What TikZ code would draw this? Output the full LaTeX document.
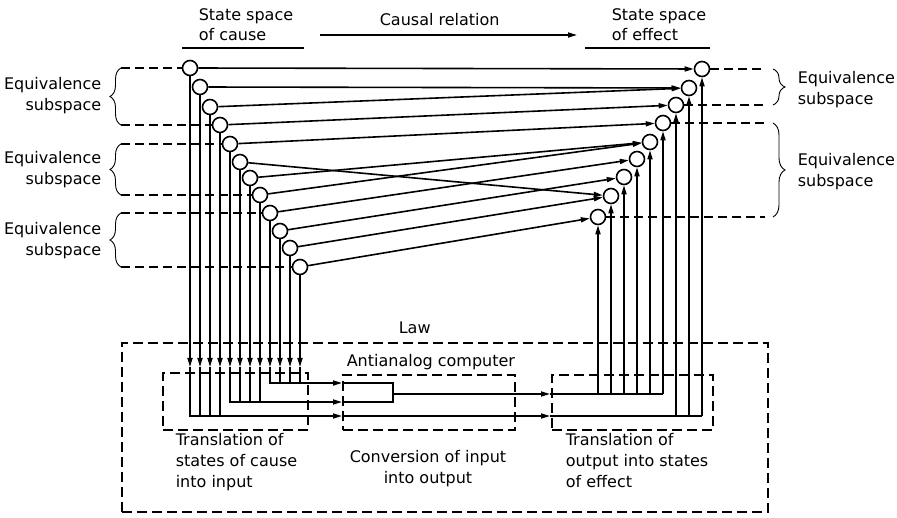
\documentclass[tikz,border=0pt]{standalone}
\usepackage{fontspec}
\setmainfont{DejaVu Sans}
\usetikzlibrary{arrows.meta,decorations.pathreplacing}
\begin{document}
\begin{tikzpicture}[x=1pt,y=-1pt,line width=1.6pt,
  st/.style={circle,draw,line width=1.6pt,minimum size=15pt,inner sep=0pt,fill=white},
  arr/.style={-{Triangle[length=9pt,width=5pt]}},
  dsh/.style={line width=1.1pt,dash pattern=on 9pt off 5pt},
  dbox/.style={draw,line width=1.1pt,dash pattern=on 10pt off 5pt,inner sep=0pt},
  brc/.style={line width=0.9pt,decorate,decoration={brace,amplitude=#1}},
  lbl/.style={font=\fontsize{16}{21}\selectfont,inner sep=0pt,align=left},
  lblr/.style={font=\fontsize{16}{21}\selectfont,inner sep=0pt,align=right},
  hdr/.style={font=\fontsize{16}{20}\selectfont,inner sep=0pt,align=left}]
\useasboundingbox (0,0) rectangle (897,518);

% boxes
\node[dbox,minimum width=646pt,minimum height=169pt] (law) at (445,427.5) {};
\node[dbox,minimum width=145pt,minimum height=57pt] (tin) at (235.5,401.5) {};
\node[dbox,minimum width=172pt,minimum height=55pt] (aac) at (429,402.5) {};
\node[dbox,minimum width=161pt,minimum height=55pt] (tout) at (632.5,402.5) {};

% cause and effect state circles
\foreach \i/\x/\y in {1/190/68,2/200/87,3/210/107,4/220/125,5/230/144,6/240/162,
                      7/250/178,8/260/195,9/270/213,10/280/231,11/290/248,12/300/267}
  \node[st] (c\i) at (\x,\y) {};
\foreach \k/\x/\y in {1/702/69,2/689/88,3/676/105,4/663/123,5/650/142,6/637/159,
                      7/624/177,8/611/196,9/598/217}
  \node[st] (e\k) at (\x,\y) {};

% helper coordinates
\coordinate (arw) at (0,367);
\coordinate (bot) at (0,416);
\coordinate (mid) at (0,402);
\coordinate (top) at (0,383);
\coordinate (out) at (0,394);
\coordinate (mg) at (393,394);
\coordinate (ba1) at (342,416);
\coordinate (ba2) at (550,416);
\coordinate (ta) at (342,383);
\coordinate (ma) at (342,402);
\coordinate (oa) at (550,394);
\coordinate (bl) at (121,0);
\coordinate (br) at (765,0);
\coordinate (brb) at (773,0);

% causal relations
\foreach \i/\j in {1/1,2/2,3/2,4/3,5/4,6/8,7/5,8/5,9/6,10/7,11/8,12/9}
  \draw[arr] (c\i) -- (e\j);

% cause verticals
\foreach \i in {1,...,12}
  \draw[arr] (c\i) -- (c\i |- arw);
\foreach \i in {2,3,4} \draw (c\i |- arw) -- (c\i |- bot);
\foreach \i in {6,7,8} \draw (c\i |- arw) -- (c\i |- mid);
\foreach \i in {10,11,12} \draw (c\i |- arw) -- (c\i |- top);
\draw[arr] (c1 |- arw) -- (c1 |- bot) -- (ba1);
\draw[arr] (ba1) -- (ba2);
\draw (ba2) -- (e1 |- bot);
\draw[arr] (c5 |- arw) -- (c5 |- mid) -- (ma);
\draw[arr] (c9 |- arw) -- (c9 |- top) -- (ta);
\draw (ta) -- (mg |- top) -- (mg |- mid) -- (ma);
\draw[arr] (mg) -- (oa);
\draw (oa) -- (e4 |- out);

% effect verticals
\foreach \k in {4,...,9} \draw[arr] (e\k |- out) -- (e\k);
\foreach \k in {1,2,3} \draw[arr] (e\k |- bot) -- (e\k);

% equivalence subspace limits
\foreach \i in {1,4,5,8,9,12} \draw[dsh] (bl |- c\i) -- (c\i.west);
\foreach \k in {1,3,4,9} \draw[dsh] (e\k.east) -- (br |- e\k);
\draw[brc=11pt] (bl |- c4) -- (bl |- c1);
\draw[brc=11pt] (bl |- c8) -- (bl |- c5);
\draw[brc=11pt] (bl |- c12) -- (bl |- c9);
\draw[brc=12pt] (brb |- e1) -- (brb |- e3);
\draw[brc=12pt] (brb |- e4) -- (brb |- e9);

% labels
\node[lblr,anchor=east] (q1) at (102,96) {Equivalence\\subspace};
\node[lblr,anchor=east] (q2) at (102,170) {Equivalence\\subspace};
\node[lblr,anchor=east] (q3) at (102,241) {Equivalence\\subspace};
\node[lbl,anchor=west] (q4) at (797,90) {Equivalence\\subspace};
\node[lbl,anchor=west] (q5) at (797,172) {Equivalence\\subspace};

% header
\node[hdr,anchor=west] (hc) at (198,25) {State space\\of cause};
\node[hdr,anchor=west] (hr) at (379,20) {Causal relation};
\node[hdr,anchor=west] (he) at (611,25) {State space\\of effect};
\coordinate (u1a) at (182,48); \coordinate (u1b) at (304,48);
\coordinate (u2a) at (585,48); \coordinate (u2b) at (710,48);
\coordinate (cra) at (320,35); \coordinate (crb) at (577,35);
\draw[line width=1.1pt] (u1a) -- (u1b);
\draw[line width=1.1pt] (u2a) -- (u2b);
\draw[arr] (cra) -- (crb);

% law labels
\node[hdr,anchor=west] (lw) at (398,328) {Law};
\node[hdr,anchor=west] (ac) at (346,362) {Antianalog computer};
\node[lbl,anchor=north west] (t1) at (175,433) {Translation of\\states of cause\\into input};
\node[lbl,anchor=north,align=center] (t2) at (428,450) {Conversion of input\\into output};
\node[lbl,anchor=north west] (t3) at (565,433) {Translation of\\output into states\\of effect};
\end{tikzpicture}
\end{document}
